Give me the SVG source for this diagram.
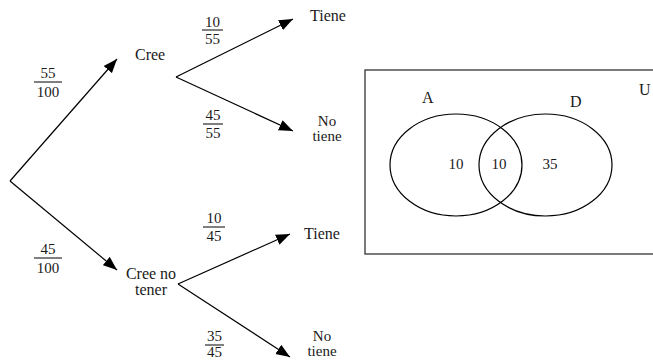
<svg xmlns="http://www.w3.org/2000/svg" width="653" height="361" viewBox="0 0 653 361">
<style>
text{font-family:"Liberation Serif","Times New Roman","DejaVu Serif",serif;font-size:16px;fill:#1a1a1a}
.f{font-size:15px;text-anchor:middle}
.m{text-anchor:middle}
.s{font-size:15px}
.ln{stroke:#000;stroke-width:1.2;fill:none}
.fl{stroke:#000;stroke-width:1}
</style>
<defs>
<marker id="ah" markerUnits="userSpaceOnUse" markerWidth="15" markerHeight="12" refX="14" refY="6" orient="auto">
<path d="M0,0.5 L14,6 L0,11.5 z" fill="#000"/>
</marker>
</defs>
<g id="connectors">
<line class="ln" x1="10" y1="181" x2="117" y2="59" marker-end="url(#ah)"/>
<line class="ln" x1="10" y1="181" x2="117" y2="270" marker-end="url(#ah)"/>
<line class="ln" x1="176" y1="77" x2="293" y2="19" marker-end="url(#ah)"/>
<line class="ln" x1="176" y1="77" x2="293" y2="131" marker-end="url(#ah)"/>
<line class="ln" x1="178" y1="284" x2="290" y2="234" marker-end="url(#ah)"/>
<line class="ln" x1="178" y1="284" x2="290" y2="357" marker-end="url(#ah)"/>
</g>
<g id="labels">
<g id="p55-100"><text class="f" x="48" y="78">55</text><line class="fl" x1="34" y1="82" x2="62" y2="82"/><text class="f" x="48" y="97">100</text></g>
<g id="p45-100"><text class="f" x="48" y="254">45</text><line class="fl" x1="34" y1="258" x2="62" y2="258"/><text class="f" x="48" y="273">100</text></g>
<g id="p10-55"><text class="f" x="212.5" y="27">10</text><line class="fl" x1="202" y1="30" x2="223" y2="30"/><text class="f" x="212.5" y="44">55</text></g>
<g id="p45-55"><text class="f" x="213" y="120">45</text><line class="fl" x1="203" y1="124" x2="223" y2="124"/><text class="f" x="213" y="138">55</text></g>
<g id="p10-45"><text class="f" x="214" y="223">10</text><line class="fl" x1="203" y1="227" x2="225" y2="227"/><text class="f" x="214" y="241">45</text></g>
<g id="p35-45"><text class="f" x="214.5" y="341">35</text><line class="fl" x1="205" y1="345" x2="224" y2="345"/><text class="f" x="214.5" y="357">45</text></g>
</g>
<g id="cree"><text x="135" y="60">Cree</text></g>
<g id="cree-no"><text class="m" x="151" y="279">Cree no</text><text class="m" x="151" y="295">tener</text></g>
<g id="tiene1"><text class="m" x="328" y="21">Tiene</text></g>
<g id="notiene1"><text class="m s" x="327" y="126">No</text><text class="m s" x="327" y="141">tiene</text></g>
<g id="tiene2"><text class="m" x="322" y="239">Tiene</text></g>
<g id="notiene2"><text class="m s" x="322" y="341">No</text><text class="m s" x="322" y="356">tiene</text></g>
<g id="venn">
<rect x="365" y="70" width="300" height="184" fill="none" stroke="#222" stroke-width="1.2"/>
<ellipse cx="456" cy="165" rx="66" ry="51" fill="none" stroke="#000" stroke-width="1.2"/>
<ellipse cx="545.5" cy="165" rx="66.5" ry="51" fill="none" stroke="#000" stroke-width="1.2"/>
<text x="422" y="103">A</text>
<text x="570" y="107">D</text>
<text x="639" y="95">U</text>
<text class="m s" x="456" y="169">10</text>
<text class="m s" x="499" y="169">10</text>
<text class="m s" x="550" y="169">35</text>
</g>
</svg>
